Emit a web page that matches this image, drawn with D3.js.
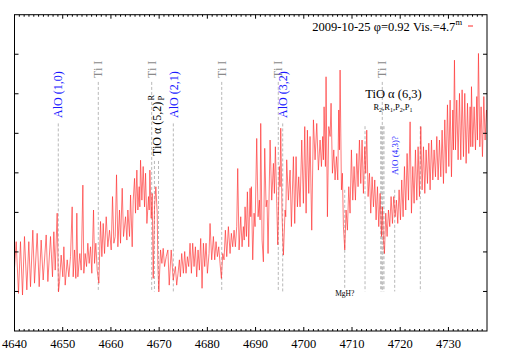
<!DOCTYPE html>
<html><head><meta charset="utf-8">
<script src="https://cdn.jsdelivr.net/npm/d3@7/dist/d3.min.js"></script>
<style>body{margin:0;background:#fff}svg{display:block}</style>
</head><body><svg id="c" width="509" height="356"></svg>
<script>
// ---- data ----
const wave = [
4640.00,4640.35,4640.83,4641.24,4641.66,4642.07,4642.56,4642.97,4643.32,4643.80,
4644.15,4644.70,4645.12,4645.53,4645.95,4646.57,4646.92,4647.47,4647.88,4648.16,
4648.44,4648.85,4649.13,4649.34,4649.68,4650.03,4650.24,4650.51,4650.93,4651.27,
4651.62,4651.96,4652.17,4652.45,4652.72,4652.93,4653.14,4653.55,4653.83,4654.18,
4654.38,4654.66,4654.94,4655.21,4655.49,4655.77,4656.04,4656.39,4656.60,4656.87,
4657.15,4657.50,4657.84,4658.12,4658.40,4658.67,4659.02,4659.36,4659.71,4660.06,
4660.33,4660.61,4660.89,4661.16,4661.44,4661.78,4661.99,4662.34,4662.61,4663.03,
4663.31,4663.51,4663.86,4664.07,4664.41,4664.62,4664.90,4665.10,4665.38,4665.59,
4665.86,4666.00,4666.14,4666.42,4666.69,4666.97,4667.18,4667.46,4667.80,4667.94,
4668.08,4668.35,4668.56,4668.77,4669.05,4669.32,4669.60,4669.74,4669.94,4670.29,
4670.57,4670.84,4671.12,4671.47,4671.81,4672.09,4672.50,4672.92,
4673.37,4673.64,4673.92,4674.20,4674.40,4674.68,4675.03,4675.30,4675.58,4675.86,
4676.13,4676.41,4676.69,4676.96,4677.24,4677.52,4677.79,4678.07,4678.35,4678.62,
4678.90,4679.18,4679.45,4679.73,4680.01,4680.35,4680.56,4680.90,4681.25,4681.53,
4681.80,4682.08,4682.36,4682.63,4682.91,4683.19,4683.46,4683.74,4684.02,4684.36,
4684.71,4684.98,4685.26,4685.54,4685.81,4686.09,4686.30,4686.58,4686.92,4687.20,
4687.47,4687.65,4687.82,4688.10,4688.30,4688.58,4688.86,4689.00,4689.13,4689.41,
4689.69,4689.90,4690.24,4690.52,4690.79,4690.93,4691.07,4691.35,4691.62,4691.90,
4692.18,4692.38,4692.59,4693.01,4693.35,4693.70,4693.90,4694.11,4694.39,4694.60,
4694.94,4695.08,4695.22,4695.50,4695.77,4696.12,4696.26,4696.46,4696.81,4697.16,
4697.43,4697.85,4698.12,4698.40,4698.68,4698.95,4699.23,4699.58,4699.92,4700.20,
4700.48,4700.75,4701.03,4701.30,4701.65,4702.00,4702.34,4702.69,4703.03,4703.38,
4703.66,4703.93,4704.07,4704.21,4704.49,4704.62,4704.90,4705.18,4705.46,
4705.66,4705.94,4706.22,4706.49,4706.77,4707.05,4707.25,4707.39,4707.53,4707.81,
4708.01,4708.22,4708.50,4708.77,4709.05,4709.33,4709.60,4709.88,4710.16,4710.43,
4710.71,4710.99,4711.26,4711.54,4711.82,4712.09,4712.37,4712.65,4712.85,4713.06,
4713.34,4713.62,4713.89,4714.17,4714.45,4714.72,4715.00,4715.28,4715.55,4715.83,
4716.11,4716.31,4716.52,4716.73,4717.00,4717.28,4717.56,4717.83,4718.11,4718.39,
4718.66,4718.94,4719.22,4719.49,4719.77,4720.05,4720.32,4720.60,4720.88,4721.15,
4721.43,4721.71,4722.05,4722.33,4722.61,4722.88,4723.16,4723.44,4723.71,4723.99,
4724.27,4724.54,4724.82,4725.10,4725.37,4725.65,4725.93,4726.20,4726.48,4726.76,
4727.03,4727.31,4727.59,4727.86,4728.14,4728.42,4728.69,4728.97,4729.25,4729.52,
4729.80,4730.08,4730.35,4730.63,4730.91,4731.04,4731.25,4731.46,4731.73,4732.01,
4732.29,4732.56,4732.84,4733.12,4733.39,4733.67,4733.95,4734.22,4734.50,4734.64,
4734.78,4735.05,4735.33,4735.61,4735.88,4736.02,4736.23,4736.51,4736.78,4737.06,
4737.34,4737.61,4737.89,4738.17,4738.44
];
const flux = [
1.60,2.26,0.95,2.26,0.91,2.39,1.04,2.26,1.12,2.55,
1.21,2.47,1.12,2.30,1.29,2.43,1.25,2.39,1.37,2.51,
1.54,2.98,0.99,1.25,1.92,1.37,2.13,1.16,1.80,1.37,
1.88,3.14,1.37,2.05,1.33,2.98,1.37,1.96,1.54,3.69,
1.46,1.96,1.63,2.22,1.71,2.13,1.46,3.06,1.71,2.22,
1.54,1.21,2.77,1.88,2.72,1.96,2.89,2.13,2.55,2.05,
3.40,2.22,2.39,3.95,2.13,3.06,2.22,3.61,2.39,2.89,
2.30,3.06,2.39,3.44,2.13,3.31,3.86,2.98,4.07,3.06,
3.65,3.14,4.32,3.31,4.16,3.14,3.99,2.72,3.40,3.06,
4.07,2.85,3.48,1.33,3.14,3.65,2.98,1.63,0.99,2.05,
1.71,2.09,1.63,1.88,2.05,1.16,2.05,1.29,
1.63,1.16,1.46,1.80,1.37,1.96,1.46,2.01,1.46,1.88,
1.63,2.22,1.46,2.22,1.63,2.13,1.37,2.05,1.54,2.34,
1.08,2.22,1.63,2.22,1.46,1.96,2.72,1.80,2.39,1.80,
2.26,1.88,2.13,1.71,1.33,1.96,1.80,2.55,1.88,2.64,
1.96,2.47,2.13,2.55,2.13,2.64,4.11,2.05,2.89,2.13,
2.64,2.30,3.14,2.39,3.52,2.13,3.61,2.89,3.65,1.80,
2.98,2.64,4.87,2.89,3.31,2.81,5.25,2.30,1.75,4.62,
3.14,3.31,1.96,4.83,3.31,4.24,3.48,4.66,3.23,2.18,
4.16,3.65,5.13,2.89,1.92,3.06,2.89,4.33,3.31,4.07,
2.64,4.41,2.72,4.41,3.14,3.90,3.14,4.83,3.23,5.17,
2.98,5.08,3.48,4.92,2.55,5.34,4.33,5.25,4.07,4.83,
4.16,4.92,4.33,5.67,4.16,6.43,2.89,5.17,4.92,
5.76,3.99,4.58,3.82,4.41,3.82,5.59,4.58,6.60,3.57,
3.99,2.64,2.05,3.06,2.55,3.65,2.98,4.58,3.31,4.16,
3.31,4.49,3.65,4.83,3.73,4.83,3.48,4.66,3.99,5.08,
3.40,3.99,2.98,3.90,3.14,3.82,2.81,3.65,2.64,3.48,
2.39,3.14,2.30,1.96,2.98,2.39,3.06,2.64,3.40,2.72,
3.40,2.89,3.31,2.72,3.57,2.81,3.82,2.89,4.16,3.06,
4.49,3.31,5.29,2.98,4.16,3.23,4.58,3.31,4.66,3.40,
5.17,3.57,4.66,3.48,4.58,3.73,4.75,3.57,4.83,3.82,
4.58,3.90,4.92,3.82,4.83,3.90,5.08,3.73,5.34,3.99,
5.72,4.16,5.84,3.90,5.59,4.58,6.85,4.58,5.84,4.33,
6.01,4.33,6.10,4.41,6.01,4.24,5.76,4.49,5.67,4.66,
6.18,4.66,5.67,4.58,5.93,4.83,7.02,4.66,5.67,4.41,
5.93,4.83,5.59,5.17,5.00
];
const xTicks = [4640,4650,4660,4670,4680,4690,4700,4710,4720,4730];
const yTicks = [1,2,3,4,5,6,7];
const tiI = [4657.38, 4668.46, 4682.98, 4694.71, 4716.28];
const aloBands = [4649.08, 4672.94, 4695.63];
const aloLabels = ["AlO (1,0)", "AlO (2,1)", "AlO (3,2)"];
const tio52 = [4669.02, 4669.87];
const tio63 = [4715.95, 4716.16, 4716.43, 4716.64];
const otherLines = [4712.70, 4724.17];
const mgh = [4708.49];
const alo43 = [4718.86];
const titleText = "2009-10-25 φ=0.92 Vis.=4.7";
const titleSup = "m";
const tio63Branches = [["R","2"],["R","1"],["P","2"],["P","1"]];

// ---- drawing ----
const svg = d3.select("#c");
const L = 14.5, R = 487, T = 14.7, B = 331;
const x = d3.scaleLinear().domain([4640, 4738]).range([L, R]);
const y = d3.scaleLinear().domain([0, 8]).range([B, T]);
const font = "'Liberation Serif','Times New Roman',serif";

svg.append("defs").append("clipPath").attr("id","clip")
  .append("rect").attr("x",L).attr("y",T).attr("width",R-L).attr("height",B-T);

// dashed identification lines
const groups = [
  {w: tiI, top: 6.3, bot: 1.0},
  {w: aloBands, top: 5.25, bot: 1.0},
  {w: tio52, top: 4.3, bot: 1.0},
  {w: tio63, top: 5.18, bot: 1.0},
  {w: otherLines, top: 5.18, bot: 1.0},
  {w: mgh, top: 3.57, bot: 1.07},
  {w: alo43, top: 3.57, bot: 1.0}
];
const gl = svg.append("g");
groups.forEach(g => {
  gl.selectAll(null).data(g.w).enter().append("line")
    .attr("x1", d => x(d)).attr("x2", d => x(d))
    .attr("y1", y(g.top)).attr("y2", y(g.bot))
    .attr("stroke", "#b8b8b8").attr("stroke-width", 1)
    .attr("stroke-dasharray", "3,2");
});

// spectrum
const pts = wave.map((w,i) => [w, flux[i]]);
svg.append("path").datum(pts)
  .attr("clip-path","url(#clip)")
  .attr("fill","none").attr("stroke","#ff2a2a").attr("stroke-width",0.75)
  .attr("stroke-opacity",0.85)
  .attr("stroke-linejoin","round")
  .attr("d", d3.line().x(d => x(d[0])).y(d => y(d[1])));

// rotated labels
function rot(txt, px, py, size, color) {
  return svg.append("text")
    .attr("transform", `translate(${px},${py}) rotate(-90)`)
    .attr("dy","0.35em")
    .attr("font-family", font).attr("font-size", size)
    .attr("fill", color).text(txt);
}
tiI.forEach(w => rot("Ti I", x(w), y(6.4), 12, "#8a8a8a"));
aloBands.forEach((w,i) => rot(aloLabels[i], x(w), y(5.39), 12, "#1a1aff"));
rot("TiO α (5,2)", 157, 156, 12, "#000");
rot("R", 151.5, 100.5, 8.5, "#000");
rot("P", 161, 100.5, 8.5, "#000");
rot("AlO (4,3)?", x(alo43[0]), 175, 9, "#1a1aff");

svg.append("text").attr("x", x(mgh[0])).attr("y", 296)
  .attr("text-anchor","middle").attr("font-family",font).attr("font-size",7.5)
  .attr("fill","#000").text("MgH?");

svg.append("text").attr("x", 393.5).attr("y", 98)
  .attr("text-anchor","middle").attr("font-family",font).attr("font-size",12.5)
  .attr("fill","#000").text("TiO α (6,3)");

const br = svg.append("text").attr("x", 393).attr("y", 109.5)
  .attr("text-anchor","middle").attr("font-family",font).attr("font-size",8.5).attr("fill","#000");
tio63Branches.forEach((b,i) => {
  br.append("tspan").attr("dy", i === 0 ? 0 : -2).text((i ? "," : "") + b[0]);
  br.append("tspan").attr("dy", 2).attr("font-size", 6).text(b[1]);
});

// title + legend sample
const tt = svg.append("text").attr("x", 462).attr("y", 31)
  .attr("text-anchor","end").attr("font-family",font).attr("font-size",12.5).attr("fill","#000");
tt.append("tspan").text(titleText);
tt.append("tspan").attr("dy",-6).attr("font-size",8.5).text(titleSup);
svg.append("line").attr("x1",468).attr("x2",473).attr("y1",26).attr("y2",26)
  .attr("stroke","#ff2a2a").attr("stroke-width",1);

// frame
svg.append("rect").attr("x",L).attr("y",T).attr("width",R-L).attr("height",B-T)
  .attr("fill","none").attr("stroke","#000").attr("stroke-width",1);

// ticks
const minor = d3.range(4641, 4738).filter(v => v % 10 !== 0);
const tk = svg.append("g").attr("stroke","#000").attr("stroke-width",1);
minor.forEach(v => {
  tk.append("line").attr("x1",x(v)).attr("x2",x(v)).attr("y1",B).attr("y2",B-2);
  tk.append("line").attr("x1",x(v)).attr("x2",x(v)).attr("y1",T).attr("y2",T+2);
});
xTicks.forEach(v => {
  tk.append("line").attr("x1",x(v)).attr("x2",x(v)).attr("y1",B).attr("y2",B-4);
  tk.append("line").attr("x1",x(v)).attr("x2",x(v)).attr("y1",T).attr("y2",T+4);
});
yTicks.forEach(v => {
  tk.append("line").attr("x1",L).attr("x2",L+4).attr("y1",y(v)).attr("y2",y(v));
  tk.append("line").attr("x1",R).attr("x2",R-4).attr("y1",y(v)).attr("y2",y(v));
});
svg.selectAll(null).data(xTicks).enter().append("text")
  .attr("x", d => x(d)).attr("y", 348.3).attr("text-anchor","middle")
  .attr("font-family",font).attr("font-size",12.5).attr("fill","#000")
  .text(d => d);
</script></body></html>
